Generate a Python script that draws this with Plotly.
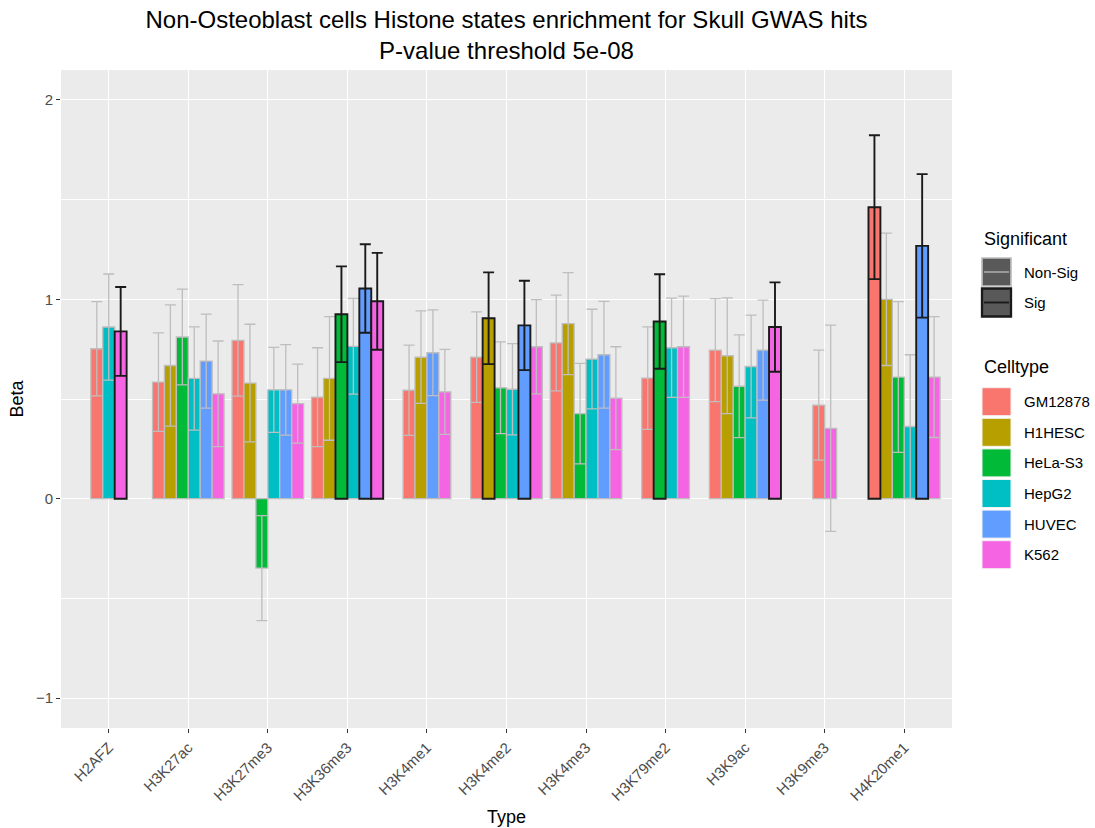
import plotly.graph_objects as go

# ---------------- data ----------------
types = ["H2AFZ", "H3K27ac", "H3K27me3", "H3K36me3", "H3K4me1", "H3K4me2",
         "H3K4me3", "H3K79me2", "H3K9ac", "H3K9me3", "H4K20me1"]
celltypes = ["GM12878", "H1HESC", "HeLa-S3", "HepG2", "HUVEC", "K562"]
colors = ["#F8766D", "#B79F00", "#00BA38", "#00BFC4", "#619CFF", "#F564E3"]

beta_GM12878 = [0.752, 0.585, 0.794, 0.509, 0.544, 0.710, 0.781, 0.605, 0.745, 0.469, 1.462]
err_GM12878 = [0.236, 0.247, 0.280, 0.248, 0.226, 0.227, 0.240, 0.257, 0.258, 0.276, 0.361]
sig_GM12878 = [0, 0, 0, 0, 0, 0, 0, 0, 0, 0, 1]

beta_H1HESC = [None, 0.668, 0.580, 0.603, 0.710, 0.905, 0.878, None, 0.717, None, 1.000]
err_H1HESC = [None, 0.304, 0.295, 0.310, 0.232, 0.230, 0.256, None, 0.290, None, 0.332]
sig_H1HESC = [0, 0, 0, 0, 0, 1, 0, 0, 0, 0, 0]

beta_HeLa = [None, 0.811, -0.348, 0.925, None, 0.556, 0.427, 0.889, 0.564, None, 0.610]
err_HeLa = [None, 0.240, 0.263, 0.240, None, 0.230, 0.252, 0.237, 0.258, None, 0.378]
sig_HeLa = [0, 0, 0, 1, 0, 0, 0, 1, 0, 0, 0]

beta_HepG2 = [0.861, 0.603, 0.546, 0.764, None, 0.549, 0.700, 0.757, 0.663, None, 0.362]
err_HepG2 = [0.266, 0.259, 0.213, 0.240, None, 0.229, 0.250, 0.249, 0.258, None, 0.360]
sig_HepG2 = [0, 0, 0, 0, 0, 0, 0, 0, 0, 0, 0]

beta_HUVEC = [None, 0.690, 0.546, 1.054, 0.732, 0.869, 0.722, None, 0.745, None, 1.268]
err_HUVEC = [None, 0.236, 0.227, 0.222, 0.215, 0.224, 0.268, None, 0.251, None, 0.360]
sig_HUVEC = [0, 0, 0, 1, 0, 1, 0, 0, 0, 0, 1]

beta_K562 = [0.839, 0.526, 0.477, 0.990, 0.536, 0.762, 0.504, 0.762, 0.861, 0.353, 0.610]
err_K562 = [0.223, 0.265, 0.198, 0.243, 0.213, 0.236, 0.258, 0.254, 0.224, 0.517, 0.303]
sig_K562 = [1, 0, 0, 1, 0, 0, 0, 0, 1, 0, 0]

sig_labels = ["Non-Sig", "Sig"]

betas = [beta_GM12878, beta_H1HESC, beta_HeLa, beta_HepG2, beta_HUVEC, beta_K562]
errs = [err_GM12878, err_H1HESC, err_HeLa, err_HepG2, err_HUVEC, err_K562]
sigs = [sig_GM12878, sig_H1HESC, sig_HeLa, sig_HepG2, sig_HUVEC, sig_K562]

# ---------------- style ----------------
FONT = "Liberation Sans, Arial, Helvetica, sans-serif"
W, H = 1095, 828
L, R, T, B = 61, 952, 70, 728          # panel edges in px
line_col = {0: "#BEBEBE", 1: "#1A1A1A"}
line_w = {0: 1.3, 1: 1.9}
bw = 0.15                               # dodge width 0.9 / 6 cell types

fig = go.Figure()

for s in (0, 1):
    for ci, ct in enumerate(celltypes):
        xs, ys, es, offs = [], [], [], []
        for ti, t in enumerate(types):
            b = betas[ci][ti]
            if b is None or sigs[ci][ti] != s:
                continue
            present = [k for k in range(len(celltypes)) if betas[k][ti] is not None]
            n = len(present)
            i = present.index(ci)
            offs.append((i - (n - 1) / 2) * bw - bw / 2)
            xs.append(t)
            ys.append(b)
            es.append(errs[ci][ti])
        if not xs:
            continue
        fig.add_trace(go.Bar(
            x=xs, y=ys, offset=offs, width=bw,
            name=f"{ct} ({sig_labels[s]})",
            marker=dict(color=colors[ci], line=dict(color=line_col[s], width=line_w[s])),
            error_y=dict(type="data", array=es, symmetric=True, visible=True,
                         color=line_col[s], thickness=line_w[s], width=5.5),
            showlegend=False,
        ))

# ---------------- manual ggplot-style legends ----------------
def px(xp):
    return (xp - L) / (R - L)

def py(yp):
    return (B - yp) / (B - T)

shapes = []
annotations = []

kx0, kx1 = 982, 1011
# Significant legend
annotations.append(dict(text="Significant", x=px(982), y=py(239), xref="paper", yref="paper",
                        xanchor="left", yanchor="middle", showarrow=False,
                        font=dict(family=FONT, size=18, color="black")))
for s, (y0, y1) in zip((0, 1), [(258, 286), (288.5, 316.5)]):
    shapes.append(dict(type="rect", xref="paper", yref="paper",
                       x0=px(kx0), x1=px(kx1), y0=py(y1), y1=py(y0),
                       fillcolor="#595959", line=dict(color=line_col[s], width=line_w[s] + 0.4)))
    ym = (y0 + y1) / 2
    shapes.append(dict(type="line", xref="paper", yref="paper",
                       x0=px(kx0 + 2), x1=px(kx1 - 2), y0=py(ym), y1=py(ym),
                       line=dict(color=line_col[s], width=line_w[s])))
    annotations.append(dict(text=sig_labels[s], x=px(1022), y=py(ym), xref="paper", yref="paper",
                            xanchor="left", yanchor="middle", showarrow=False,
                            font=dict(family=FONT, size=15, color="black")))

# Celltype legend
annotations.append(dict(text="Celltype", x=px(982), y=py(367), xref="paper", yref="paper",
                        xanchor="left", yanchor="middle", showarrow=False,
                        font=dict(family=FONT, size=18, color="black")))
for ci, ct in enumerate(celltypes):
    ym = 401.7 + 30.6 * ci
    shapes.append(dict(type="rect", xref="paper", yref="paper",
                       x0=px(kx0), x1=px(kx1), y0=py(ym + 14), y1=py(ym - 14),
                       fillcolor=colors[ci], line=dict(color="#F2F2F2", width=1)))
    annotations.append(dict(text=ct, x=px(1022), y=py(ym), xref="paper", yref="paper",
                            xanchor="left", yanchor="middle", showarrow=False,
                            font=dict(family=FONT, size=15, color="black")))

fig.update_layout(
    width=W, height=H,
    margin=dict(l=L, r=W - R, t=T, b=H - B, autoexpand=False),
    paper_bgcolor="white", plot_bgcolor="#EBEBEB",
    barmode="overlay",
    font=dict(family=FONT, color="black"),
    title=dict(text="Non-Osteoblast cells Histone states enrichment for Skull GWAS hits<br>P-value threshold 5e-08",
               x=(L + R) / 2 / W, xanchor="center", xref="container",
               y=1 - 28 / H, yanchor="top", yref="container",
               font=dict(family=FONT, size=24, color="black")),
    xaxis=dict(type="category", categoryorder="array", categoryarray=types,
               range=[-0.6, len(types) - 0.4], showgrid=True, gridcolor="white", gridwidth=1.1,
               zeroline=False, showline=False, ticks="outside", ticklen=4, tickwidth=1,
               tickcolor="#333333", tickangle=-45,
               tickfont=dict(family=FONT, size=15, color="#4D4D4D"),
               title=dict(text="Type", standoff=7, font=dict(family=FONT, size=18, color="black"))),
    yaxis=dict(range=[-1.15, 2.15], tickvals=[-1, 0, 1, 2], showgrid=True, gridcolor="white",
               gridwidth=1.1, zeroline=False, showline=False, ticks="outside", ticklen=4,
               tickwidth=1, tickcolor="#333333",
               tickfont=dict(family=FONT, size=15, color="#4D4D4D"),
               minor=dict(tickvals=[-0.5, 0.5, 1.5], showgrid=True, gridcolor="white",
                          gridwidth=0.55, ticks=""),
               title=dict(text="Beta", standoff=7, font=dict(family=FONT, size=18, color="black"))),
    shapes=shapes, annotations=annotations,
)

fig.write_html("out.html")
